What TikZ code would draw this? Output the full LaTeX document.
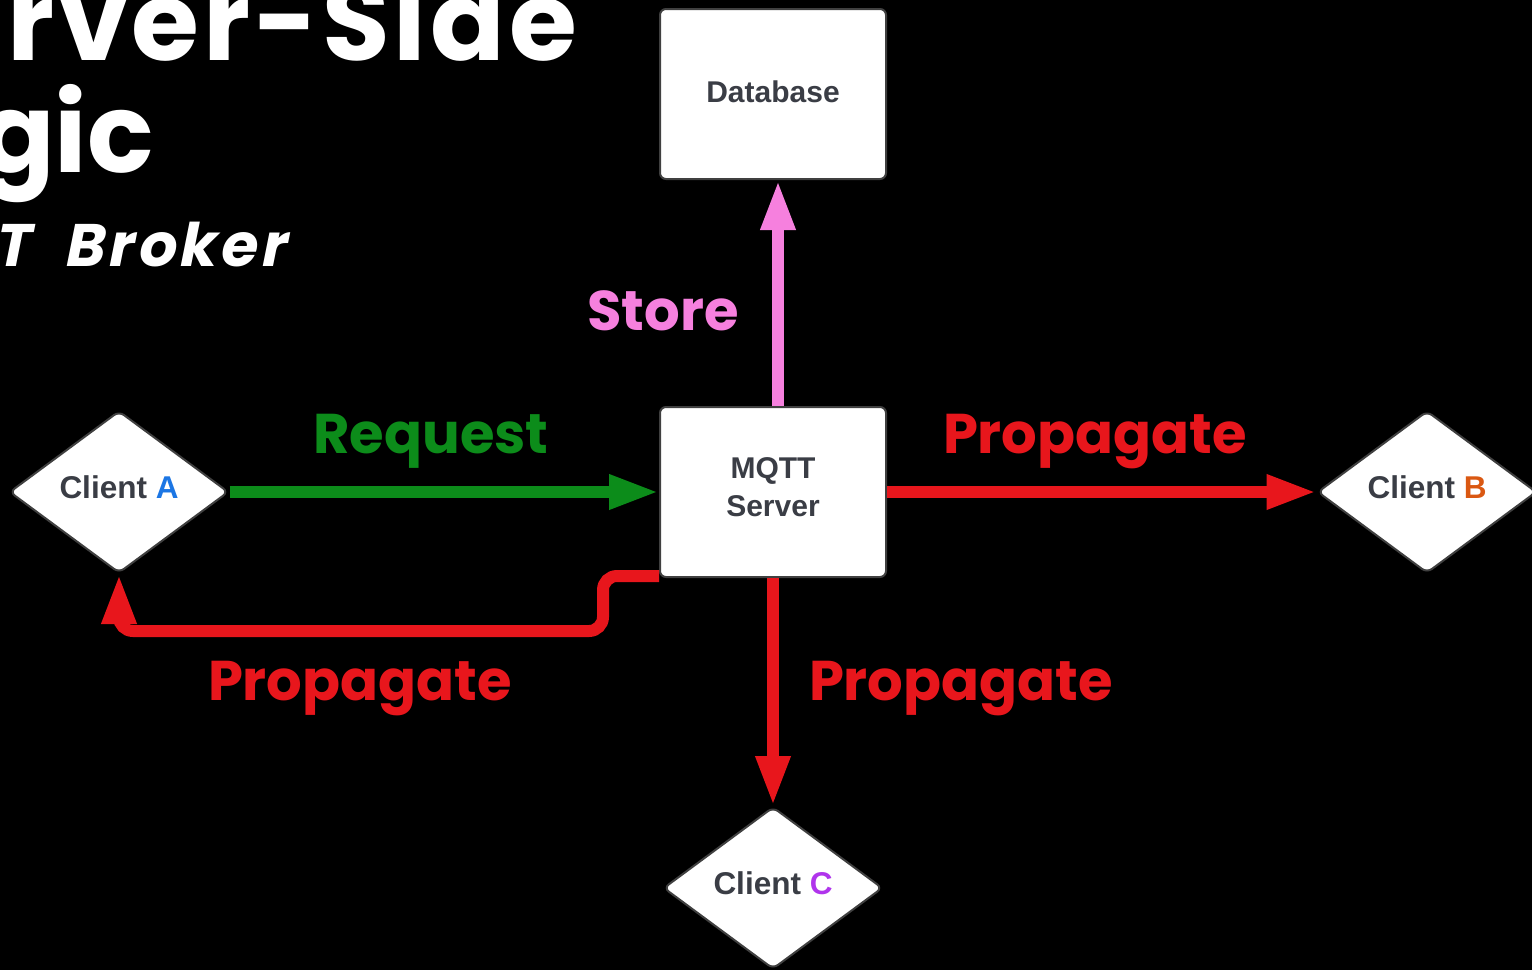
\documentclass[tikz,border=0pt]{standalone}
\usepackage{fontspec}
\setmainfont{Liberation Sans}
\newfontfamily\headfont{Poppins}
\newfontfamily\widefont{Poppins}[LetterSpace=3.6]
\newfontfamily\slantfont{Poppins}[FakeSlant=0.2,LetterSpace=6]
\usetikzlibrary{arrows.meta,shapes.geometric}

\definecolor{inkgray}{RGB}{58,61,69}
\definecolor{reqgreen}{RGB}{12,140,26}
\definecolor{propred}{RGB}{232,22,28}
\definecolor{storepink}{RGB}{246,128,222}
\definecolor{clientblue}{RGB}{28,118,228}
\definecolor{clientorange}{RGB}{218,88,18}
\definecolor{clientpurple}{RGB}{176,52,236}

\begin{document}
\begin{tikzpicture}[x=1pt,y=-1pt,
		box/.style={draw=black!75,line width=2pt,fill=white,rounded corners=6pt,
			minimum width=226pt,minimum height=170pt,text=inkgray,align=center,
			font=\fontsize{30}{38}\selectfont\bfseries},
		client/.style={diamond,draw=black!75,line width=2pt,fill=white,rounded corners=6pt,
			aspect=1.35,inner sep=0pt,minimum width=219pt,minimum height=162pt,text depth=10pt,
			text=inkgray,font=\fontsize{31.5}{36}\selectfont\bfseries},
		flow/.style={line width=12pt,-{Triangle[length=50pt,width=32pt]}},
		lbl/.style={anchor=base,font=\headfont\fontsize{56}{60}\selectfont\bfseries},
		heading/.style={anchor=base east,inner sep=0pt,text=white}]
			
			\useasboundingbox (0,0) rectangle (1532,970);
			\fill[black] (0,0) rectangle (1532,970);
			\clip (0,0) rectangle (1532,970);
			
			\node[heading,font=\widefont\fontsize{110}{110}\selectfont\bfseries] (head1) at (577,60) {rver-Side};
			\node[heading,font=\headfont\fontsize{110}{110}\selectfont\bfseries] (head2) at (154,172) {gic};
			\node[heading,font=\slantfont\fontsize{60}{60}\selectfont\bfseries] (head3) at (285,266) {T\hspace{18pt} Broker};
			
			\node[box,text depth=4pt] (db) at (773,94) {Database};
			\node[box,text depth=10pt] (server) at (773,492) {MQTT\\Server};
			
			\node[client] (clientA) at (119,492) {Client \textcolor{clientblue}{A}};
			\node[client] (clientB) at (1427,492) {Client \textcolor{clientorange}{B}};
			\node[client] (clientC) at (773,888) {Client \textcolor{clientpurple}{C}};
			
			\coordinate (loopbend) at (603,631);
			
			\draw[flow,reqgreen] (clientA.east) -- (server.west);
			\draw[flow,storepink] ([xshift=5pt]server.north) -- ([xshift=5pt]db.south);
			\draw[flow,propred] (server.east) -- (clientB.west);
			\draw[flow,propred] (server.south) -- (clientC.north);
			\draw[flow,propred,rounded corners=14pt] ([yshift=2pt]server.south west) -| (loopbend) -| (clientA.south);
			
			\node[lbl,storepink] (store) at (663,330) {Store};
			\node[lbl,reqgreen] (request) at (431,453) {Request};
			\node[lbl,propred] (propB) at (1095,453) {Propagate};
			\node[lbl,propred] (propA) at (360,700) {Propagate};
			\node[lbl,propred] (propC) at (961,700) {Propagate};
			
		\end{tikzpicture}
\end{document}
